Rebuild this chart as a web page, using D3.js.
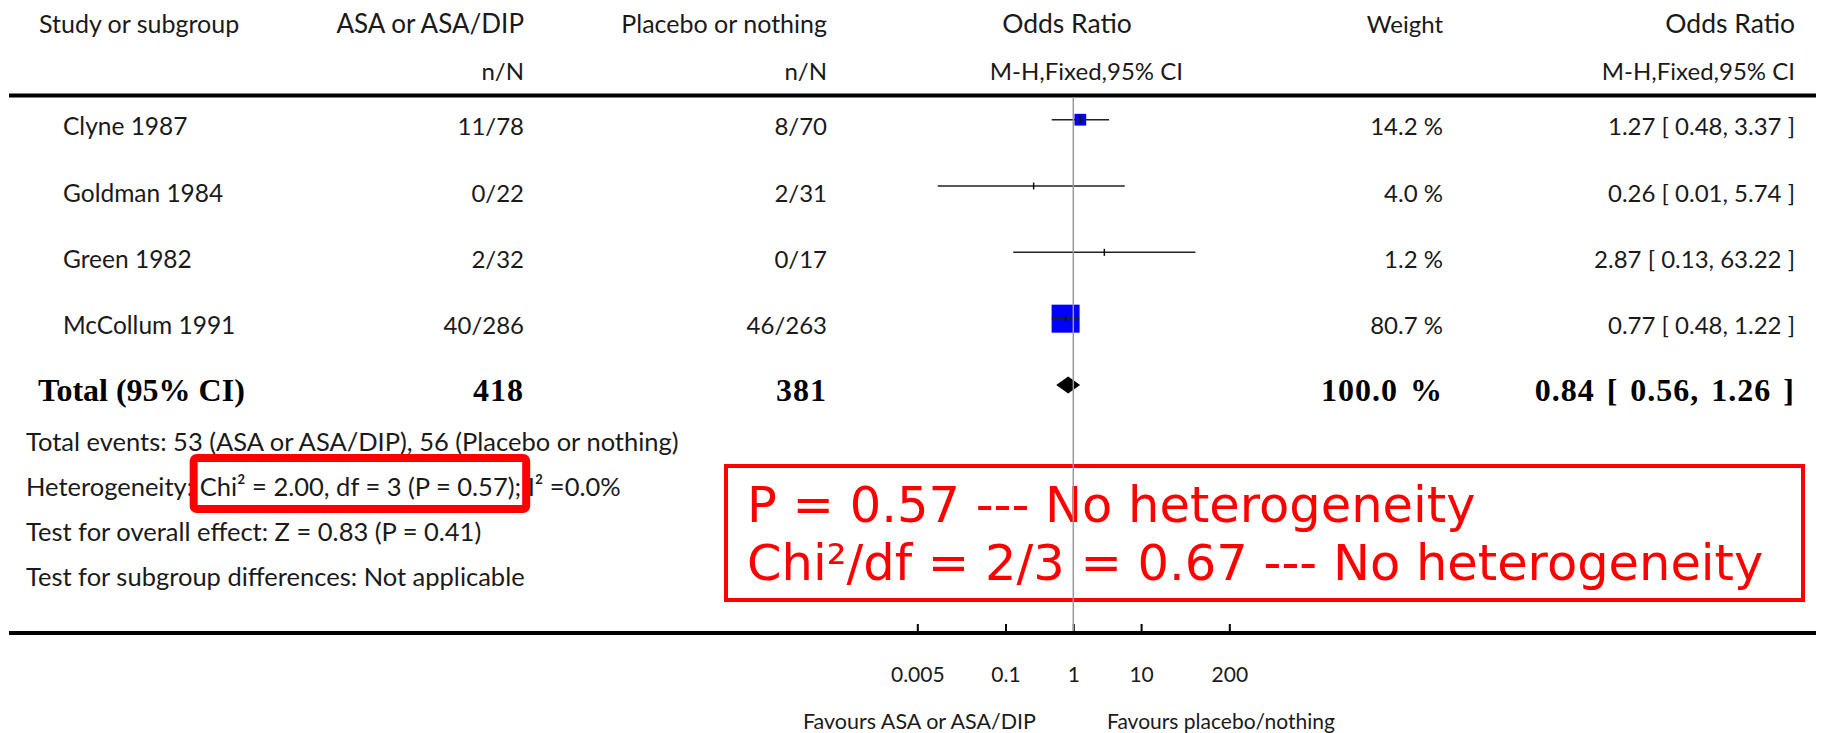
<!DOCTYPE html>
<html>
<head>
<meta charset="utf-8">
<script src="https://cdn.jsdelivr.net/npm/d3@7"></script>
<style>
  body { margin: 0; background: #fff; }
  text { font-family: Lato, "Open Sans", sans-serif; fill: #1a1a1a; }
</style>
</head>
<body>
<svg width="1822" height="733"></svg>
<script>
// Study rows
var studies = ["Clyne 1987", "Goldman 1984", "Green 1982", "McCollum 1991"];
var asaEvents = [11, 0, 2, 40];
var asaTotals = [78, 22, 32, 286];
var ctrlEvents = [8, 2, 0, 46];
var ctrlTotals = [70, 31, 17, 263];
var weights = [14.2, 4.0, 1.2, 80.7];
var oddsRatios = [1.27, 0.26, 2.87, 0.77];
var ciLower = [0.48, 0.01, 0.13, 0.48];
var ciUpper = [3.37, 5.74, 63.22, 1.22];

// Pooled estimate
var totalLabel = "Total (95% CI)";
var totalAsa = 418;
var totalCtrl = 381;
var totalWeight = 100.0;
var totalOR = [0.84, 0.56, 1.26];

var tickValues = [0.005, 0.1, 1, 10, 200];
var tickLabels = ["0.005", "0.1", "1", "10", "200"];

var footnotes = [
  "Total events: 53 (ASA or ASA/DIP), 56 (Placebo or nothing)",
  "Heterogeneity: Chi\u00b2 = 2.00, df = 3 (P = 0.57); I\u00b2 =0.0%",
  "Test for overall effect: Z = 0.83 (P = 0.41)",
  "Test for subgroup differences: Not applicable"
];
var noteLines = [
  "P = 0.57 --- No heterogeneity",
  "Chi\u00b2/df = 2/3 = 0.67 --- No heterogeneity"
];

var svg = d3.select("svg");

var x = d3.scaleLog().domain([0.005, 200]).range([917.3, 1229.3]);
var y = d3.scalePoint().domain(d3.range(studies.length + 1)).range([119.7, 385]);
var boxSize = d3.scaleSqrt().domain([0, 80.7]).range([0, 28]);
var fmt2 = d3.format(".2f");

function label(g, px, py, str, anchor, size) {
  return g.append("text")
    .attr("x", px)
    .attr("y", py)
    .attr("text-anchor", anchor || "start")
    .style("font-size", (size || 24) + "px")
    .text(str);
}

// header
var head = svg.append("g");
label(head, 39, 33, "Study or subgroup", "start", 25);
label(head, 524, 33, "ASA or ASA/DIP", "end", 26);
label(head, 827, 33, "Placebo or nothing", "end", 25);
label(head, 1067, 33, "Odds Ratio", "middle", 26.5);
label(head, 1443, 33, "Weight", "end");
label(head, 1795, 33, "Odds Ratio", "end", 26.5);
label(head, 524, 80, "n/N", "end");
label(head, 827, 80, "n/N", "end");
label(head, 1183, 80, "M-H,Fixed,95% CI", "end");
label(head, 1795, 80, "M-H,Fixed,95% CI", "end");

svg.append("line")
  .attr("x1", 9).attr("x2", 1816)
  .attr("y1", 95.5).attr("y2", 95.5)
  .attr("stroke", "#000").attr("stroke-width", 4);

// study rows
var rows = svg.append("g");
studies.forEach(function(s, i) {
  var base = y(i) + 15.5;
  label(rows, 63, base, s, "start", 24.5);
  label(rows, 524, base, asaEvents[i] + "/" + asaTotals[i], "end");
  label(rows, 827, base, ctrlEvents[i] + "/" + ctrlTotals[i], "end");
  label(rows, 1443, base, weights[i].toFixed(1) + " %", "end");
  label(rows, 1795, base, fmt2(oddsRatios[i]) + " [ " + fmt2(ciLower[i]) + ", " + fmt2(ciUpper[i]) + " ]", "end");
});

// total row
svg.append("g").selectAll("text")
  .data([
    [38, "start", totalLabel, 0],
    [524, "end", totalAsa, 1],
    [827, "end", totalCtrl, 1],
    [1443, "end", totalWeight.toFixed(1) + " %", 1],
    [1795, "end", fmt2(totalOR[0]) + " [ " + fmt2(totalOR[1]) + ", " + fmt2(totalOR[2]) + " ]", 1]
  ])
  .enter().append("text")
  .attr("x", function(d) { return d[0]; })
  .attr("y", y(studies.length) + 15.5)
  .attr("text-anchor", function(d) { return d[1]; })
  .style("font-family", "'Liberation Serif', 'Times New Roman', serif")
  .style("font-weight", "bold")
  .style("font-size", "32px")
  .style("letter-spacing", function(d) { return d[3] ? "1px" : null; })
  .style("word-spacing", function(d) { return d[3] ? "3px" : null; })
  .style("fill", "#000")
  .text(function(d) { return d[2]; });

// forest marks
var plot = svg.append("g");

// small weights get no visible box
plot.selectAll("rect.box")
  .data(studies.filter(function(d, i) { return weights[i] >= 5; }))
  .enter().append("rect")
  .attr("class", "box")
  .each(function(d) {
    var i = studies.indexOf(d);
    var s = boxSize(weights[i]);
    d3.select(this)
      .attr("x", x(oddsRatios[i]) - s / 2)
      .attr("y", y(i) - s / 2)
      .attr("width", s)
      .attr("height", s);
  })
  .attr("fill", "#0000ff");

plot.selectAll("line.ci")
  .data(studies)
  .enter().append("line")
  .attr("class", "ci")
  .attr("x1", function(d, i) { return x(ciLower[i]); })
  .attr("x2", function(d, i) { return x(ciUpper[i]); })
  .attr("y1", function(d, i) { return y(i); })
  .attr("y2", function(d, i) { return y(i); })
  .attr("stroke", "#222").attr("stroke-width", 1.5);

plot.selectAll("line.pt")
  .data(studies)
  .enter().append("line")
  .attr("class", "pt")
  .attr("x1", function(d, i) { return x(oddsRatios[i]); })
  .attr("x2", function(d, i) { return x(oddsRatios[i]); })
  .attr("y1", function(d, i) { return y(i) - 3.5; })
  .attr("y2", function(d, i) { return y(i) + 3.5; })
  .attr("stroke", "#111").attr("stroke-width", 1.5);

var yt = y(studies.length);
plot.append("path")
  .attr("d", d3.line()([
    [x(totalOR[1]), yt], [x(totalOR[0]), yt - 8.5],
    [x(totalOR[2]), yt], [x(totalOR[0]), yt + 8.5]
  ]) + "Z")
  .attr("fill", "#000");

// footnotes
var notes = svg.append("g");
footnotes.forEach(function(t, i) {
  label(notes, 26, 451 + i * 45, t, "start", 25.5);
});

// red box round the Chi2 part of the heterogeneity line
var het = notes.selectAll("text").filter(function(d, i) { return i === 1; }).node();
var full = footnotes[1];
var start = full.indexOf("Chi");
var len = full.indexOf(";") + 1 - start;
var hx = 26 + het.getSubStringLength(0, start);
var hw = het.getSubStringLength(start, len);
notes.append("rect")
  .attr("x", hx - 6)
  .attr("y", 496 - 38)
  .attr("width", hw + 11)
  .attr("height", 51)
  .attr("rx", 3)
  .attr("fill", "none")
  .attr("stroke", "#ff0000")
  .attr("stroke-width", 8);

// annotation box
svg.append("rect")
  .attr("x", 726).attr("y", 466)
  .attr("width", 1077).attr("height", 134)
  .attr("fill", "none")
  .attr("stroke", "#ff0000")
  .attr("stroke-width", 4);

svg.append("g").selectAll("text")
  .data(noteLines)
  .enter().append("text")
  .attr("x", 747)
  .attr("y", function(d, i) { return 521.7 + i * 58.3; })
  .style("font-family", "'DejaVu Sans', sans-serif")
  .style("font-size", "49.5px")
  .style("fill", "#ff0000")
  .text(function(d) { return d; });

// axis
svg.append("line")
  .attr("x1", 9).attr("x2", 1816)
  .attr("y1", 633).attr("y2", 633)
  .attr("stroke", "#000").attr("stroke-width", 4);

var axis = svg.append("g")
  .attr("transform", "translate(0,633)")
  .call(d3.axisBottom(x)
    .tickValues(tickValues)
    .tickSize(-9)
    .tickPadding(34)
    .tickFormat(function(d, i) { return tickLabels[i]; }));
axis.select(".domain").remove();
axis.selectAll(".tick line").attr("stroke", "#000").attr("stroke-width", 2);
axis.selectAll(".tick text")
  .style("font-size", "21px")
  .style("fill", "#1a1a1a");
axis.attr("font-family", null).attr("font-size", null);

svg.append("text")
  .attr("x", 1036).attr("y", 729)
  .attr("text-anchor", "end")
  .style("font-size", "21.5px")
  .text("Favours ASA or ASA/DIP");
svg.append("text")
  .attr("x", 1107).attr("y", 729)
  .style("font-size", "21px")
  .text("Favours placebo/nothing");

// line of no effect, drawn last so it sits over the note box
svg.append("line")
  .attr("x1", x(1)).attr("x2", x(1))
  .attr("y1", 97).attr("y2", 631)
  .attr("stroke", "#999").attr("stroke-width", 1.5);
</script>
</body>
</html>
